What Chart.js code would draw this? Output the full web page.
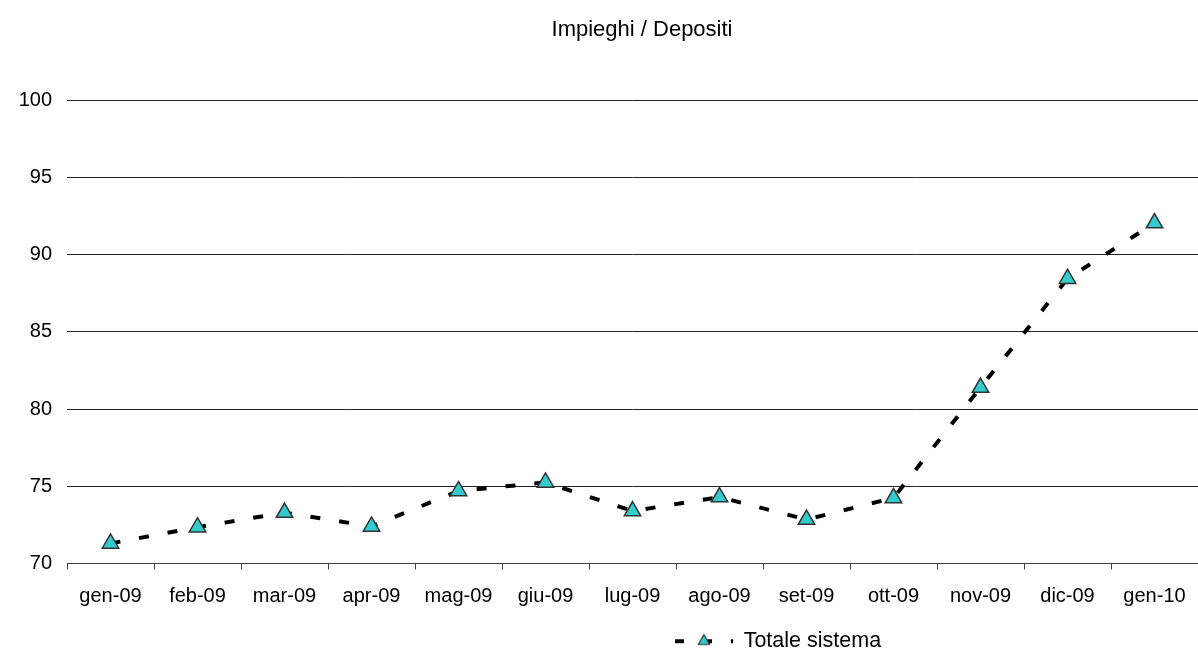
<!DOCTYPE html>
<html>
<head>
<meta charset="utf-8">
<title>Impieghi / Depositi</title>
<script src="https://cdn.jsdelivr.net/npm/chart.js@4/dist/chart.umd.min.js"></script>
<style>
  body { margin: 0; background: #fff; }
  #wrap { width: 1198px; height: 655px; }
</style>
</head>
<body>
<div id="wrap"><canvas id="chart" width="1198" height="655"></canvas></div>
<script>
// Impieghi / Depositi - totale sistema

const months = ['gen-09', 'feb-09', 'mar-09', 'apr-09', 'mag-09', 'giu-09', 'lug-09',
                'ago-09', 'set-09', 'ott-09', 'nov-09', 'dic-09', 'gen-10'];
const totaleSistema = [71.3, 72.35, 73.3, 72.4, 74.7, 75.25, 73.4, 74.3, 72.85, 74.25, 81.4, 88.45, 92.05];
const yTicks = [70, 75, 80, 85, 90, 95, 100];

const FONT = "'Liberation Sans', Arial, Helvetica, sans-serif";
const TURQ = '#33CCCC';

// Excel-like placement of title and legend (not centred on the canvas)
const TITLE_DX = 43;
const LEGEND_DX = 179;
const LEGEND_DY = 7;
const LEGEND_BOX = 58;

// legend symbol: dashed line with a small triangle in the middle
function legendSymbol() {
    const c = document.createElement('canvas');
    c.width = LEGEND_BOX;
    c.height = 16;
    const g = c.getContext('2d');
    const y = 8;
    g.strokeStyle = '#000';
    g.lineWidth = 4;
    g.lineCap = 'butt';
    g.setLineDash([9, 19]);
    g.beginPath();
    g.moveTo(0, y);
    g.lineTo(LEGEND_BOX, y);
    g.stroke();
    g.setLineDash([]);
    const cx = LEGEND_BOX / 2, r = 6.5;
    g.beginPath();
    g.moveTo(cx, y - r);
    g.lineTo(cx + r * 0.866, y + r / 2);
    g.lineTo(cx - r * 0.866, y + r / 2);
    g.closePath();
    g.fillStyle = TURQ;
    g.fill();
    g.strokeStyle = '#333';
    g.lineWidth = 1.2;
    g.stroke();
    return c;
}

const placeBoxes = {
    id: 'placeBoxes',
    afterLayout(chart) {
        const lg = chart.legend;
        lg.left += LEGEND_DX; lg.right += LEGEND_DX;
        lg.top += LEGEND_DY; lg.bottom += LEGEND_DY;
        const t = chart.titleBlock;
        t.left += TITLE_DX; t.right += TITLE_DX;
    }
};

const symbol = legendSymbol();

const ctx = document.getElementById('chart').getContext('2d');
new Chart(ctx, {
    type: 'line',
    data: {
        labels: months,
        datasets: [{
            label: 'Totale sistema',
            data: totaleSistema,
            borderColor: '#000',
            borderWidth: 4,
            borderDash: [10, 19],
            borderCapStyle: 'butt',
            tension: 0,
            fill: false,
            pointStyle: 'triangle',
            pointRadius: 9.5,
            pointHoverRadius: 9.5,
            pointBackgroundColor: TURQ,
            pointBorderColor: '#333',
            pointBorderWidth: 1.5
        }]
    },
    options: {
        responsive: false,
        animation: false,
        layout: { padding: 0, autoPadding: false },
        plugins: {
            title: {
                display: true,
                text: 'Impieghi / Depositi',
                color: '#000',
                font: { family: FONT, size: 22, weight: 'normal' },
                padding: { top: 17, bottom: 57 }
            },
            legend: {
                display: true,
                position: 'bottom',
                labels: {
                    color: '#000',
                    font: { family: FONT, size: 21.5 },
                    usePointStyle: true,
                    pointStyleWidth: LEGEND_BOX,
                    boxHeight: 16,
                    padding: 10,
                    generateLabels: () => [{
                        text: 'Totale sistema',
                        fillStyle: TURQ,
                        strokeStyle: '#333',
                        lineWidth: 0,
                        lineDash: [],
                        pointStyle: symbol,
                        datasetIndex: 0,
                        hidden: false
                    }]
                }
            },
            tooltip: { enabled: false }
        },
        scales: {
            x: {
                offset: true,
                afterFit: s => { s.height = 50; s.paddingLeft = 0; s.paddingRight = 0; },
                grid: {
                    display: true,
                    offset: true,
                    drawOnChartArea: false,
                    drawTicks: true,
                    tickLength: 6,
                    color: '#444'
                },
                border: { display: true, color: '#444', width: 1 },
                ticks: {
                    color: '#000',
                    font: { family: FONT, size: 20 },
                    padding: 15,
                    maxRotation: 0,
                    autoSkip: false
                }
            },
            y: {
                min: 70,
                max: 100,
                afterFit: s => { s.width = 67; },
                afterBuildTicks: s => { s.ticks = yTicks.map(v => ({ value: v })); },
                grid: {
                    color: '#222',
                    lineWidth: 1,
                    drawTicks: false
                },
                border: { display: false },
                ticks: {
                    color: '#000',
                    font: { family: FONT, size: 20 },
                    padding: 15
                }
            }
        }
    },
    plugins: [placeBoxes]
});
</script>
</body>
</html>
